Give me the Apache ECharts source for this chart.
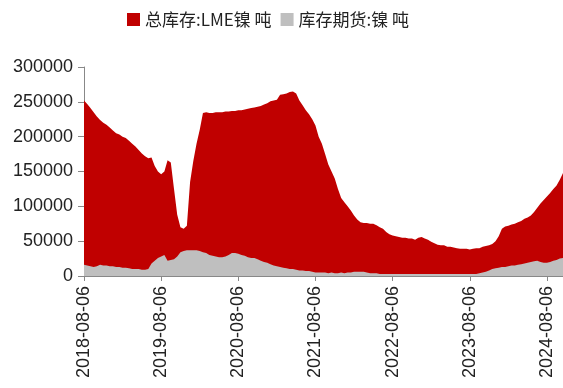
<!DOCTYPE html>
<html><head><meta charset="utf-8">
<script src="https://cdn.jsdelivr.net/npm/echarts@6/dist/echarts.min.js"></script>
<style>html,body{margin:0;padding:0;background:#fff}#c{width:563px;height:388px}</style>
</head><body><div id="c"></div>
<script>
// Categories: semi-monthly dates (06 and 21) from 2018-08-06 to 2024-10-21
const categories = [];
for (let y = 2018, m = 8; y < 2024 || (y === 2024 && m <= 10); m++) {
  if (m > 12) { m = 1; y++; }
  const mm = String(m).padStart(2, '0');
  categories.push(y + '-' + mm + '-06', y + '-' + mm + '-21');
}
const seriesNames = ['总库存:LME镍 吨', '库存期货:镍 吨'];
// values in thousand tonnes
const lmeTotal = [252,247,241,235,229,224,220,217,213,209,205,203,200,198,194,190,186,181,176,172,
  169,170,158,150,146,150,166,163,125,88,70,68,72,135,165,190,210,234,235,234,
  234,235,235,235,236,236,237,237,238,238,239,240,241,242,243,244,246,248,251,252,
  253,260,261,262,264,265,262,252,245,238,232,225,216,200,190,175,160,150,140,125,
  112,106,100,94,87,81,77,76,76,75,75,73,70,68,63,60,58,57,56,55,
  55,54,54,52,55,56,54,52,49,47,45,44,44,42,42,41,40,39,39,39,
  38,39,40,40,42,43,44,46,50,57,68,71,72,74,75,77,79,82,84,87,
  92,98,104,109,114,119,125,130,138,148];
const shfeFutures = [16,15,14,13,14,16,15,15,14,14,13,13,12,12,11,10,10,10,9,9,
  10,18,22,26,28,30,22,23,24,28,34,36,37,37,37,37,36,34,33,30,
  29,28,27,27,28,30,33,33,32,30,29,27,26,26,24,22,20,19,17,15,
  14,13,12,11,10,10,9,8,8,7,7,6,5,5,5,5,4,5,4,4,
  5,4,5,5,6,6,6,6,5,4,4,4,3,3,3,3,3,3,3,3,
  3,3,3,3,3,3,3,3,3,3,3,3,3,3,3,3,3,3,3,3,
  3,3,3,4,5,6,8,10,11,12,13,13,14,15,15,16,17,18,19,20,
  21,22,20,19,19,20,22,23,25,26];
const yTicks = [0, 300000, 50000]; // min, max, interval

const chart = echarts.init(document.getElementById('c'));
chart.setOption({
  animation: false,
  backgroundColor: '#fff',
  legend: {
    top: 6, left: 122, itemWidth: 13, itemHeight: 13, itemGap: 9, icon: 'rect',
    textStyle: { fontFamily: 'Noto Sans CJK SC', fontSize: 17, color: '#222' },
    data: seriesNames
  },
  grid: { left: 84, right: 0, top: 67, bottom: 112, containLabel: false },
  xAxis: {
    type: 'category', data: categories, boundaryGap: false,
    axisLine: { lineStyle: { color: '#888' } },
    axisTick: { interval: (i) => i % 24 === 0, length: 5, lineStyle: { color: '#888' } },
    axisLabel: { interval: (i) => i % 24 === 0, rotate: 90, fontFamily: 'Liberation Sans', fontSize: 18, color: '#222', margin: 10 }
  },
  yAxis: {
    type: 'value', min: yTicks[0], max: yTicks[1], interval: yTicks[2],
    splitLine: { show: false },
    axisLine: { show: true, lineStyle: { color: '#888' } },
    axisTick: { show: true, length: 6, lineStyle: { color: '#888' } },
    axisLabel: { fontFamily: 'Liberation Sans', fontSize: 18, color: '#222', margin: 11, formatter: (v) => String(v) }
  },
  series: [
    { name: seriesNames[0], type: 'line', data: lmeTotal.map(v => v * 1000), showSymbol: false,
      lineStyle: { width: 0 }, itemStyle: { color: '#C00000' }, areaStyle: { color: '#C00000', opacity: 1 } },
    { name: seriesNames[1], type: 'line', data: shfeFutures.map(v => v * 1000), showSymbol: false,
      lineStyle: { width: 0 }, itemStyle: { color: '#BFBFBF' }, areaStyle: { color: '#BFBFBF', opacity: 1 } }
  ]
});
</script></body></html>
